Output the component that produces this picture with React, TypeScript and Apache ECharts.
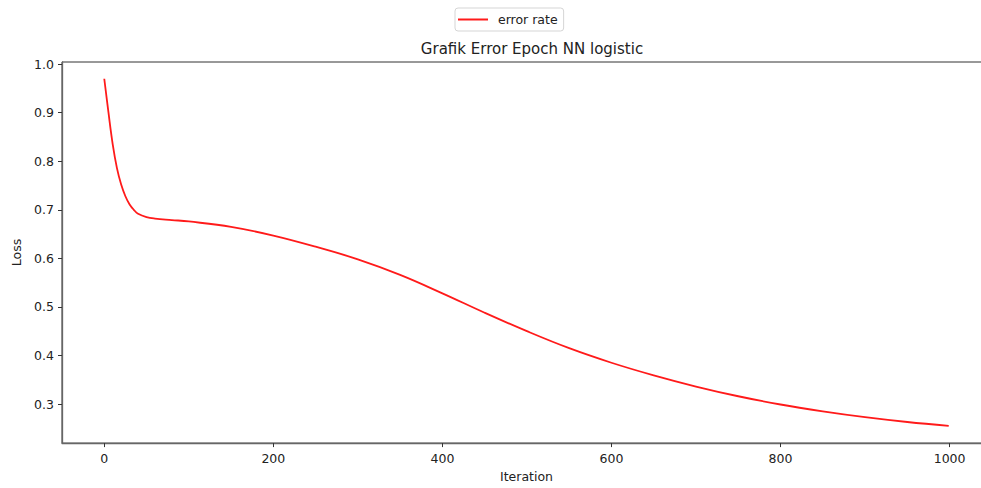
import React, { useEffect, useRef } from "react";
import * as echarts from "echarts";

// Training loss per iteration of the logistic NN
const iterations = [0, 5, 10, 15, 20, 25, 30, 35, 40, 50, 60, 80, 100, 150, 200, 250, 300, 350, 400, 450, 500, 550, 600, 650, 700, 750, 800, 850, 900, 950, 999];
const lossValues = [0.970, 0.900, 0.835, 0.786, 0.752, 0.728, 0.711, 0.700, 0.692, 0.685, 0.682, 0.679, 0.676, 0.665, 0.647, 0.624, 0.598, 0.566, 0.528, 0.488, 0.450, 0.415, 0.385, 0.359, 0.336, 0.316, 0.299, 0.285, 0.273, 0.263, 0.255];

const xTicks = [0, 200, 400, 600, 800, 1000];
const yTicks = [0.3, 0.4, 0.5, 0.6, 0.7, 0.8, 0.9, 1.0];

const seriesName = "error rate";
const chartTitle = "Grafik Error Epoch NN logistic";
const xName = "Iteration";
const yName = "Loss";

const FONT = "DejaVu Sans";
const TEXT = "#222";

export default function App() {
  const ref = useRef<HTMLDivElement>(null);

  useEffect(() => {
    if (!ref.current) return;
    const chart = echarts.init(ref.current, null, { renderer: "svg" });
    const points = iterations.map((it, i) => [it, lossValues[i]]);

    chart.setOption({
      animation: false,
      backgroundColor: "#fff",
      textStyle: { fontFamily: FONT, color: TEXT },
      title: {
        text: chartTitle,
        left: 527,
        top: 36,
        textAlign: "center",
        textStyle: { fontFamily: FONT, fontSize: 15, fontWeight: "normal", color: TEXT },
      },
      legend: {
        left: 455,
        top: 8,
        padding: [5, 6, 5, 3],
        borderColor: "#d5d5d5",
        borderWidth: 1,
        borderRadius: 3,
        backgroundColor: "#fff",
        icon: "rect",
        itemWidth: 30,
        itemHeight: 2,
        textStyle: { fontFamily: FONT, fontSize: 12.5, color: TEXT, padding: [0, 0, 0, 5] },
        data: [seriesName],
      },
      // the plot frame runs 10px past the right edge of the visible page
      grid: {
        left: 62,
        top: 62,
        right: 0,
        bottom: 41,
        show: true,
        borderColor: "#333",
        borderWidth: 1,
      },
      xAxis: {
        type: "value",
        min: -50,
        max: 1049,
        name: xName,
        nameLocation: "middle",
        nameGap: 26,
        nameTextStyle: { fontFamily: FONT, fontSize: 12.5, color: TEXT },
        axisLine: { show: true, onZero: false, lineStyle: { color: "#666", width: 1.3 } },
        axisTick: { show: true, inside: false, customValues: xTicks, length: 4, lineStyle: { color: "#333" } },
        axisLabel: {
          customValues: xTicks,
          margin: 9,
          fontFamily: FONT,
          fontSize: 12.5,
          color: TEXT,
          formatter: (v: number) => String(v),
        },
        splitLine: { show: false },
      },
      yAxis: {
        type: "value",
        min: 0.2195,
        max: 1.0045,
        name: yName,
        nameLocation: "middle",
        nameGap: 38,
        nameTextStyle: { fontFamily: FONT, fontSize: 12.5, color: TEXT },
        axisLine: { show: true, onZero: false, lineStyle: { color: "#666", width: 1.3 } },
        axisTick: { show: true, inside: false, customValues: yTicks, length: 4, lineStyle: { color: "#333" } },
        axisLabel: {
          customValues: yTicks,
          margin: 8,
          fontFamily: FONT,
          fontSize: 12.5,
          color: TEXT,
          formatter: (v: number) => v.toFixed(1),
        },
        splitLine: { show: false },
      },
      series: [
        {
          name: seriesName,
          type: "line",
          data: points,
          smooth: 0.4,
          showSymbol: false,
          symbol: "none",
          itemStyle: { color: "#ff1a1a" },
          lineStyle: { color: "#ff1a1a", width: 1.8 },
        },
      ],
    });

    return () => chart.dispose();
  }, []);

  return (
    <div
      ref={ref}
      style={{ position: "fixed", left: 0, top: 0, width: 991, height: 488 }}
    />
  );
}
